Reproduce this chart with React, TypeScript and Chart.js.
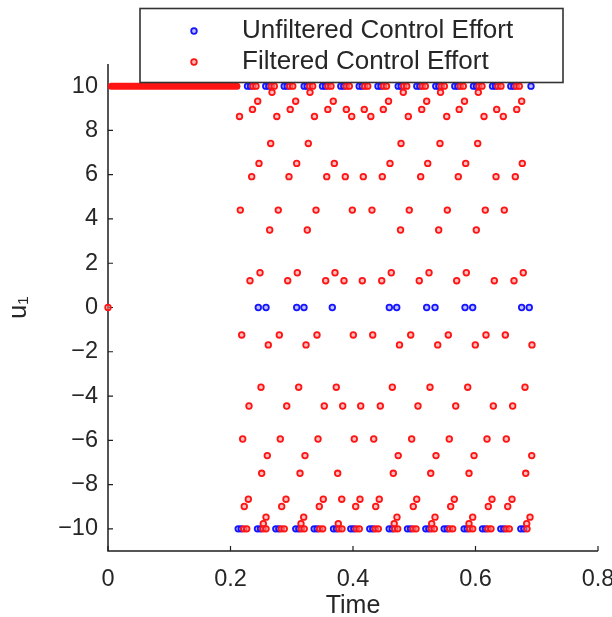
import React, { useEffect, useRef } from "react";
import { Chart, registerables } from "chart.js";

Chart.register(...registerables);

const W = 612;
const H = 617;

const xTicks = [0, 0.2, 0.4, 0.6, 0.8];
const xTickLabels = ["0", "0.2", "0.4", "0.6", "0.8"];
const yTicks = [-10, -8, -6, -4, -2, 0, 2, 4, 6, 8, 10];
const yTickLabels = ["\u221210", "\u22128", "\u22126", "\u22124", "\u22122", "0", "2", "4", "6", "8", "10"];

const seriesNames = ["Unfiltered Control Effort", "Filtered Control Effort"];

// Unfiltered control effort (switches between +10, 0, -10)
const unfilteredHighT = [0.2278, 0.2327, 0.2576, 0.2625, 0.2877, 0.2926, 0.3203, 0.3252, 0.3502, 0.3551, 0.3801, 0.385, 0.4101, 0.415, 0.4408, 0.4457, 0.4738, 0.4787, 0.5042, 0.5091, 0.5352, 0.5401, 0.5662, 0.5711, 0.5967, 0.6016, 0.6278, 0.6327, 0.6576, 0.6625, 0.6906];
const unfilteredZeroT = [0.2454, 0.258, 0.3081, 0.32, 0.3662, 0.4593, 0.4714, 0.5203, 0.5339, 0.5829, 0.5954, 0.6754, 0.6878];
const unfilteredLowT = [0.2126, 0.2175, 0.2441, 0.249, 0.274, 0.2789, 0.3066, 0.3115, 0.3366, 0.3415, 0.3682, 0.3731, 0.3964, 0.4013, 0.4274, 0.4323, 0.4591, 0.464, 0.489, 0.4939, 0.5189, 0.5238, 0.5489, 0.5538, 0.5815, 0.5864, 0.6114, 0.6163, 0.6413, 0.6462, 0.674, 0.6789];

// Filtered control effort
const filteredSaturatedT = [0.0055, 0.2105]; // densely sampled at +10
const filteredHighT = [0.2367, 0.2416, 0.2666, 0.2715, 0.2967, 0.3016, 0.3293, 0.3342, 0.3592, 0.3641, 0.3891, 0.394, 0.4191, 0.424, 0.4498, 0.4547, 0.4828, 0.4877, 0.5132, 0.5181, 0.5442, 0.5491, 0.5752, 0.5801, 0.6057, 0.6106, 0.6367, 0.6416, 0.6666, 0.6715];
const filteredLowT = [0.2216, 0.2265, 0.2531, 0.258, 0.2829, 0.2878, 0.3156, 0.3204, 0.3456, 0.3505, 0.3771, 0.382, 0.4054, 0.4103, 0.4364, 0.4413, 0.4681, 0.473, 0.498, 0.5029, 0.5279, 0.5328, 0.5579, 0.5628, 0.5906, 0.5955, 0.6204, 0.6253, 0.6503, 0.6552, 0.6841];
const filteredLevels = [9.72, 9.32, 8.95, 8.63, 7.41, 6.51, 5.91, 4.4, 3.5, 1.57, 1.21, 0, -1.24, -1.69, -3.6, -4.45, -5.94, -6.69, -7.49, -8.66, -8.99, -9.47, -9.77];
const filteredTimesByLevel = [
  [0.2678, 0.3298, 0.4821, 0.5429, 0.6046],
  [0.2444, 0.3064, 0.3678, 0.458, 0.5203, 0.582, 0.6754],
  [0.2359, 0.2975, 0.3589, 0.3891, 0.4184, 0.4495, 0.5122, 0.5734, 0.6346, 0.6673],
  [0.2147, 0.2756, 0.3371, 0.3979, 0.4291, 0.4903, 0.553, 0.6139, 0.6454],
  [0.2656, 0.327, 0.4784, 0.542, 0.6036],
  [0.2465, 0.3081, 0.3695, 0.4604, 0.522, 0.584, 0.6764],
  [0.2346, 0.2955, 0.3571, 0.3874, 0.4168, 0.4478, 0.5105, 0.5719, 0.6335, 0.665],
  [0.216, 0.278, 0.3396, 0.3989, 0.431, 0.4919, 0.554, 0.616, 0.647],
  [0.264, 0.3254, 0.4776, 0.5399, 0.6013],
  [0.2482, 0.3091, 0.3706, 0.4625, 0.5241, 0.585, 0.678],
  [0.2318, 0.2934, 0.3554, 0.3853, 0.4152, 0.4469, 0.5082, 0.5693, 0.6307, 0.6629],
  [0],
  [0.2183, 0.2797, 0.3412, 0.4005, 0.4322, 0.4942, 0.5556, 0.6171, 0.6487],
  [0.2617, 0.3233, 0.4759, 0.5383, 0.5997, 0.6922],
  [0.2498, 0.3113, 0.3727, 0.4642, 0.5257, 0.5873, 0.6808],
  [0.2302, 0.2918, 0.3531, 0.3832, 0.4126, 0.4446, 0.5061, 0.5677, 0.6291, 0.6607],
  [0.2199, 0.2813, 0.3429, 0.4021, 0.4338, 0.4958, 0.5572, 0.6188, 0.6503],
  [0.2601, 0.3216, 0.4738, 0.5355, 0.5976, 0.6918],
  [0.2509, 0.3135, 0.375, 0.4658, 0.5269, 0.5894, 0.682],
  [0.2291, 0.2906, 0.3515, 0.3816, 0.4114, 0.4429, 0.504, 0.5654, 0.6269, 0.6596],
  [0.2225, 0.2836, 0.345, 0.4044, 0.4371, 0.4984, 0.5595, 0.6209, 0.6526],
  [0.258, 0.3195, 0.4718, 0.5339, 0.5954, 0.689],
  [0.2536, 0.3151, 0.376, 0.4673, 0.5285, 0.5894, 0.6836],
];

const RED = "rgb(255,20,20)";
const BLUE = "rgb(20,20,255)";
const RED_FILL = "rgba(255,140,140,0.55)";
const BLUE_FILL = "rgba(140,140,255,0.55)";
const AXIS = "#1e1e1e";
const TEXT = "#262626";
const FONT = "'Liberation Sans', Arial, Helvetica, sans-serif";
const POINT_R = 2.8;
const POINT_BW = 1.8;

const axesPlugin = {
  id: "matlabAxes",
  beforeDatasetsDraw(chart: any) {
    const { ctx, chartArea } = chart;
    const { left, right, top, bottom } = chartArea;
    const xs = chart.scales.x;
    const ys = chart.scales.y;
    ctx.save();
    ctx.strokeStyle = AXIS;
    ctx.lineWidth = 1.5;
    ctx.beginPath();
    ctx.moveTo(left, top);
    ctx.lineTo(left, bottom);
    ctx.lineTo(right, bottom);
    ctx.stroke();
    ctx.lineWidth = 1.2;
    ctx.beginPath();
    xTicks.forEach((v) => {
      const p = xs.getPixelForValue(v);
      ctx.moveTo(p, bottom);
      ctx.lineTo(p, bottom - 5);
    });
    yTicks.forEach((v) => {
      const p = ys.getPixelForValue(v);
      ctx.moveTo(left, p);
      ctx.lineTo(left + 5, p);
    });
    ctx.stroke();
    ctx.restore();
  },
};

const legendPlugin = {
  id: "matlabLegend",
  afterDraw(chart: any) {
    const { ctx } = chart;
    ctx.save();
    const bx = 140, by = 8.5, bw = 423, bh = 74;
    ctx.fillStyle = "#ffffff";
    ctx.fillRect(bx, by, bw, bh);
    ctx.strokeStyle = "#333333";
    ctx.lineWidth = 1.6;
    ctx.strokeRect(bx, by, bw, bh);
    const rows = [
      { label: seriesNames[0], color: BLUE, fill: BLUE_FILL, y: 31 },
      { label: seriesNames[1], color: RED, fill: RED_FILL, y: 62 },
    ];
    rows.forEach((r) => {
      ctx.beginPath();
      ctx.arc(194, r.y, POINT_R, 0, Math.PI * 2);
      ctx.fillStyle = r.fill;
      ctx.fill();
      ctx.strokeStyle = r.color;
      ctx.lineWidth = POINT_BW;
      ctx.stroke();
      ctx.fillStyle = TEXT;
      ctx.font = `26px ${FONT}`;
      ctx.textBaseline = "middle";
      ctx.textAlign = "left";
      ctx.fillText(r.label, 242, r.y);
    });
    ctx.restore();
  },
};

export default function App() {
  const ref = useRef<HTMLCanvasElement>(null);

  useEffect(() => {
    const canvas = ref.current;
    if (!canvas) return;

    const filteredPoints: { x: number; y: number }[] = [];
    filteredTimesByLevel.forEach((ts, i) => ts.forEach((t) => filteredPoints.push({ x: t, y: filteredLevels[i] })));
    filteredHighT.forEach((t) => filteredPoints.push({ x: t, y: 10 }));
    filteredLowT.forEach((t) => filteredPoints.push({ x: t, y: -10 }));

    const unfilteredPoints: { x: number; y: number }[] = [];
    unfilteredHighT.forEach((t) => unfilteredPoints.push({ x: t, y: 10 }));
    unfilteredZeroT.forEach((t) => unfilteredPoints.push({ x: t, y: 0 }));
    unfilteredLowT.forEach((t) => unfilteredPoints.push({ x: t, y: -10 }));

    const tickFont = { family: FONT, size: 23.5 };

    const chart = new Chart(canvas, {
      type: "scatter",
      data: {
        datasets: [
          {
            label: seriesNames[1],
            data: filteredPoints,
            borderColor: RED,
            backgroundColor: RED_FILL,
            pointRadius: POINT_R,
            pointBorderWidth: POINT_BW,
            clip: false,
          } as any,
          {
            label: seriesNames[1] + " (dense)",
            type: "line",
            data: filteredSaturatedT.map((t) => ({ x: t, y: 10 })),
            borderColor: RED,
            borderWidth: 7,
            borderCapStyle: "round",
            pointRadius: 0,
            showLine: true,
            fill: false,
            clip: false,
          } as any,
          {
            label: seriesNames[0],
            data: unfilteredPoints,
            borderColor: BLUE,
            backgroundColor: BLUE_FILL,
            pointRadius: POINT_R,
            pointBorderWidth: POINT_BW,
            clip: false,
          } as any,
        ],
      },
      options: {
        responsive: false,
        animation: false,
        events: [],
        layout: { padding: { left: 0, right: 14, top: 64, bottom: 0 } },
        plugins: { legend: { display: false }, tooltip: { enabled: false } },
        scales: {
          x: {
            type: "linear",
            min: 0,
            max: 0.8,
            grid: { display: false, drawTicks: false },
            border: { display: false },
            afterBuildTicks: (s: any) => {
              s.ticks = xTicks.map((v) => ({ value: v }));
            },
            afterFit: (s: any) => {
              s.height = 66;
              s.paddingLeft = 0;
              s.paddingRight = 0;
            },
            ticks: {
              autoSkip: false,
              maxRotation: 0,
              padding: 14,
              color: TEXT,
              font: tickFont,
              callback: (v: any) => xTickLabels[xTicks.indexOf(Number(v))] ?? "",
            },
            title: { display: true, text: "Time", color: TEXT, font: { family: FONT, size: 25, lineHeight: 0.9 }, padding: { top: 0, bottom: 0 } },
          },
          y: {
            type: "linear",
            min: -11,
            max: 11,
            grid: { display: false, drawTicks: false },
            border: { display: false },
            afterBuildTicks: (s: any) => {
              s.ticks = yTicks.map((v) => ({ value: v }));
            },
            afterFit: (s: any) => {
              s.width = 108;
              s.paddingTop = 0;
              s.paddingBottom = 0;
            },
            ticks: {
              autoSkip: false,
              padding: 10,
              color: TEXT,
              font: tickFont,
              callback: (v: any) => yTickLabels[yTicks.indexOf(Number(v))] ?? "",
            },
            title: { display: true, text: "u\u2081", color: TEXT, font: { family: FONT, size: 25, lineHeight: 1 }, padding: { top: 7, bottom: 0 } },
          },
        },
      } as any,
      plugins: [axesPlugin, legendPlugin],
    });

    return () => chart.destroy();
  }, []);

  return (
    <div style={{ position: "absolute", left: 0, top: 0, width: W, height: H, background: "#fff" }}>
      <canvas ref={ref} width={W} height={H} style={{ width: W, height: H, display: "block" }} />
    </div>
  );
}
